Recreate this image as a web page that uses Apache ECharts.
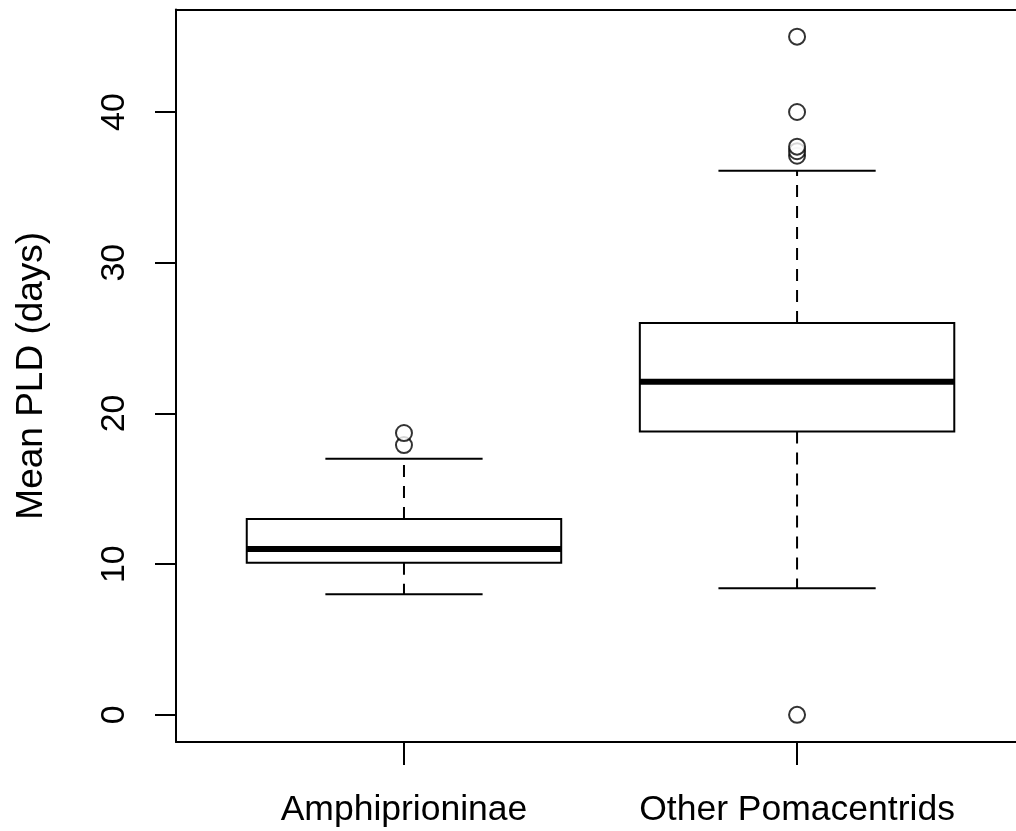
<!DOCTYPE html>
<html>
<head>
<meta charset="utf-8">
<style>
  html, body { margin: 0; padding: 0; background: #fff; }
  #chart { width: 1016px; height: 831px; }
</style>
<script src="https://cdn.jsdelivr.net/npm/echarts@6/dist/echarts.min.js"></script>
</head>
<body>
<div id="chart"></div>
<script>
// Group names and five-number summaries of mean pelagic larval duration (days)
const groups = ['Amphiprioninae', 'Other Pomacentrids'];
const lowerWhisker = [8.0, 8.4];
const lowerQuartile = [10.1, 18.8];
const medianValue = [11.0, 22.1];
const upperQuartile = [13.0, 26.0];
const upperWhisker = [17.0, 36.1];
// Points beyond the whiskers, per group
const outliersAmph = [17.9, 18.7];
const outliersOther = [0, 37.1, 37.4, 37.7, 40, 45];
const yTicks = [0, 10, 20, 30, 40];

const boxWidth = 0.8;
const stapleWidth = 0.4;

const boxData = groups.map((g, i) => [i + 1, lowerWhisker[i], lowerQuartile[i], medianValue[i], upperQuartile[i], upperWhisker[i]]);
const outlierData = [];
outliersAmph.forEach(v => outlierData.push([1, v]));
outliersOther.forEach(v => outlierData.push([2, v]));

const font = '"Liberation Sans", Arial, Helvetica, sans-serif';
const xMin = 0.42, xMax = 2.557;

function renderBox(params, api) {
  const x = api.value(0);
  const lo = api.value(1), q1 = api.value(2), med = api.value(3), q3 = api.value(4), hi = api.value(5);
  const bL = api.coord([x - boxWidth / 2, q1])[0];
  const bR = api.coord([x + boxWidth / 2, q1])[0];
  const sL = api.coord([x - stapleWidth / 2, lo])[0];
  const sR = api.coord([x + stapleWidth / 2, lo])[0];
  const cx = api.coord([x, lo])[0];
  const yLo = api.coord([x, lo])[1];
  const yQ1 = api.coord([x, q1])[1];
  const yMed = api.coord([x, med])[1];
  const yQ3 = api.coord([x, q3])[1];
  const yHi = api.coord([x, hi])[1];
  const solid = { stroke: '#000', lineWidth: 2, fill: null };
  const dashed = { stroke: '#000', lineWidth: 2, lineDash: [12, 9], fill: null };
  return {
    type: 'group',
    children: [
      { type: 'line', shape: { x1: cx, y1: yQ1, x2: cx, y2: yLo }, style: dashed },
      { type: 'line', shape: { x1: cx, y1: yQ3, x2: cx, y2: yHi }, style: dashed },
      { type: 'line', shape: { x1: sL, y1: yLo, x2: sR, y2: yLo }, style: solid },
      { type: 'line', shape: { x1: sL, y1: yHi, x2: sR, y2: yHi }, style: solid },
      { type: 'rect', shape: { x: bL, y: yQ3, width: bR - bL, height: yQ1 - yQ3 }, style: { stroke: '#000', lineWidth: 2, fill: '#fff' } },
      { type: 'line', shape: { x1: bL, y1: yMed, x2: bR, y2: yMed }, style: { stroke: '#000', lineWidth: 6 } }
    ]
  };
}

const chart = echarts.init(document.getElementById('chart'), null, { renderer: 'canvas' });
chart.setOption({
  animation: false,
  backgroundColor: '#fff',
  grid: { left: 176, right: 0, top: 9.5, bottom: 89 },
  xAxis: [
    {
      type: 'value', min: xMin, max: xMax, position: 'bottom',
      splitLine: { show: false },
      axisLine: { show: true, onZero: false, lineStyle: { color: '#000', width: 2 } },
      axisTick: { show: true, inside: false, length: 23, customValues: [1, 2], lineStyle: { color: '#000', width: 2 } },
      axisLabel: {
        show: true, customValues: [1, 2], margin: 50,
        formatter: v => groups[Math.round(v) - 1] || '',
        color: '#000', fontSize: 35.5, fontFamily: font
      }
    },
    {
      // top edge of the frame
      type: 'value', min: xMin, max: xMax, position: 'top',
      splitLine: { show: false },
      axisLine: { show: true, onZero: false, lineStyle: { color: '#000', width: 2 } },
      axisTick: { show: false }, axisLabel: { show: false }
    }
  ],
  yAxis: {
    type: 'value', min: -1.8, max: 46.8,
    name: 'Mean PLD (days)', nameLocation: 'middle', nameRotate: 90, nameGap: 126,
    nameTextStyle: { color: '#000', fontSize: 37, fontFamily: font },
    splitLine: { show: false },
    axisLine: { show: true, onZero: false, lineStyle: { color: '#000', width: 2 } },
    axisTick: { show: true, inside: false, length: 21, customValues: yTicks, lineStyle: { color: '#000', width: 2 } },
    axisLabel: { show: true, customValues: yTicks, rotate: 90, margin: 44, color: '#000', fontSize: 34, fontFamily: font }
  },
  series: [
    { type: 'custom', xAxisIndex: 0, renderItem: renderBox, data: boxData, encode: { x: 0, y: [1, 2, 3, 4, 5] }, clip: false },
    { type: 'scatter', xAxisIndex: 0, data: outlierData, symbol: 'emptyCircle', symbolSize: 16, itemStyle: { color: '#000', borderColor: '#000', borderWidth: 2 } }
  ]
});
</script>
</body>
</html>
